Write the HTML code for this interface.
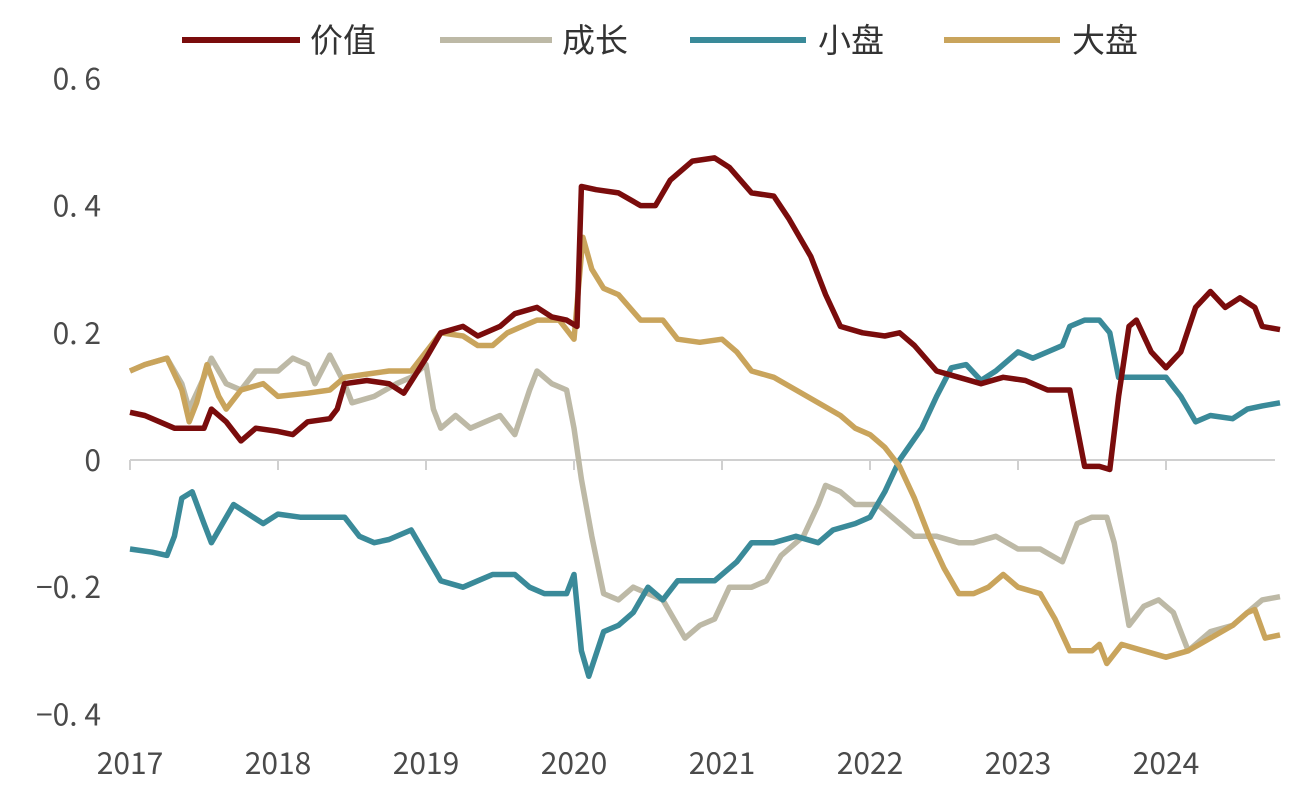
<!DOCTYPE html>
<html><head><meta charset="utf-8">
<style>
html,body{margin:0;padding:0;background:#fff;}
svg{display:block;font-family:"Noto Sans CJK SC","Liberation Sans",sans-serif;}
</style></head>
<body>
<svg id="chart" width="1290" height="792" viewBox="0 0 1290 792" xmlns="http://www.w3.org/2000/svg">
<g id="legend">
  <g><line x1="182" y1="40" x2="300" y2="40" stroke="#7a0c0c" stroke-width="6"/><text x="310" y="52" font-size="33" fill="#333">价值</text></g>
  <g><line x1="440" y1="40" x2="552" y2="40" stroke="#bdb9a6" stroke-width="6"/><text x="562" y="52" font-size="33" fill="#333">成长</text></g>
  <g><line x1="690" y1="40" x2="806" y2="40" stroke="#3a8a99" stroke-width="6"/><text x="818" y="52" font-size="33" fill="#333">小盘</text></g>
  <g><line x1="944" y1="40" x2="1060" y2="40" stroke="#c9a45c" stroke-width="6"/><text x="1072" y="52" font-size="33" fill="#333">大盘</text></g>
</g>
<g id="yaxis"></g>
<g id="xaxis"></g>
<g id="series"></g>
</svg>
<script>
const yTicks = [0.6, 0.4, 0.2, 0, -0.2, -0.4];
const yTickLabels = ["0. 6", "0. 4", "0. 2", "0", "\u22120. 2", "\u22120. 4"];
const xTicks = [2017, 2018, 2019, 2020, 2021, 2022, 2023, 2024];
const xTickLabels = ["2017", "2018", "2019", "2020", "2021", "2022", "2023", "2024"];

const valueX = [2017.0,2017.1,2017.2,2017.3,2017.4,2017.5,2017.55,2017.65,2017.75,2017.85,2018.0,2018.1,2018.2,2018.35,2018.4,2018.45,2018.6,2018.75,2018.85,2019.0,2019.1,2019.25,2019.35,2019.5,2019.6,2019.75,2019.85,2019.95,2020.02,2020.05,2020.15,2020.3,2020.45,2020.55,2020.65,2020.8,2020.95,2021.05,2021.2,2021.35,2021.45,2021.6,2021.7,2021.8,2021.95,2022.1,2022.2,2022.3,2022.45,2022.6,2022.75,2022.9,2023.05,2023.2,2023.35,2023.4,2023.45,2023.55,2023.62,2023.68,2023.75,2023.8,2023.9,2024.0,2024.1,2024.2,2024.3,2024.4,2024.5,2024.6,2024.65,2024.77];
const valueY = [0.075,0.07,0.06,0.05,0.05,0.05,0.08,0.06,0.03,0.05,0.045,0.04,0.06,0.065,0.08,0.12,0.125,0.12,0.105,0.16,0.2,0.21,0.195,0.21,0.23,0.24,0.225,0.22,0.21,0.43,0.425,0.42,0.4,0.4,0.44,0.47,0.475,0.46,0.42,0.415,0.38,0.32,0.26,0.21,0.2,0.195,0.2,0.18,0.14,0.13,0.12,0.13,0.125,0.11,0.11,0.05,-0.01,-0.01,-0.015,0.1,0.21,0.22,0.17,0.145,0.17,0.24,0.265,0.24,0.255,0.24,0.21,0.205];

const growthX = [2017.0,2017.1,2017.25,2017.35,2017.4,2017.5,2017.55,2017.65,2017.75,2017.85,2018.0,2018.1,2018.2,2018.25,2018.35,2018.45,2018.5,2018.65,2018.8,2018.9,2019.0,2019.05,2019.1,2019.2,2019.3,2019.4,2019.5,2019.6,2019.7,2019.75,2019.85,2019.95,2020.0,2020.05,2020.12,2020.2,2020.3,2020.4,2020.5,2020.6,2020.7,2020.75,2020.85,2020.95,2021.05,2021.2,2021.3,2021.4,2021.55,2021.65,2021.7,2021.8,2021.9,2022.05,2022.15,2022.3,2022.45,2022.6,2022.7,2022.85,2023.0,2023.15,2023.3,2023.4,2023.5,2023.6,2023.65,2023.75,2023.85,2023.95,2024.05,2024.15,2024.3,2024.45,2024.55,2024.65,2024.77];
const growthY = [0.14,0.15,0.16,0.12,0.08,0.13,0.16,0.12,0.11,0.14,0.14,0.16,0.15,0.12,0.165,0.12,0.09,0.1,0.12,0.13,0.15,0.08,0.05,0.07,0.05,0.06,0.07,0.04,0.11,0.14,0.12,0.11,0.05,-0.03,-0.12,-0.21,-0.22,-0.2,-0.21,-0.22,-0.26,-0.28,-0.26,-0.25,-0.2,-0.2,-0.19,-0.15,-0.12,-0.07,-0.04,-0.05,-0.07,-0.07,-0.09,-0.12,-0.12,-0.13,-0.13,-0.12,-0.14,-0.14,-0.16,-0.1,-0.09,-0.09,-0.13,-0.26,-0.23,-0.22,-0.24,-0.3,-0.27,-0.26,-0.24,-0.22,-0.215];

const smallX = [2017.0,2017.15,2017.25,2017.3,2017.35,2017.42,2017.5,2017.55,2017.6,2017.7,2017.8,2017.9,2018.0,2018.15,2018.3,2018.45,2018.55,2018.65,2018.75,2018.9,2019.0,2019.1,2019.25,2019.35,2019.45,2019.6,2019.7,2019.8,2019.9,2019.95,2020.0,2020.05,2020.1,2020.2,2020.3,2020.4,2020.5,2020.6,2020.7,2020.85,2020.95,2021.1,2021.2,2021.35,2021.5,2021.65,2021.75,2021.9,2022.0,2022.1,2022.2,2022.35,2022.45,2022.55,2022.65,2022.75,2022.85,2023.0,2023.1,2023.2,2023.3,2023.35,2023.45,2023.55,2023.62,2023.68,2023.8,2024.0,2024.1,2024.2,2024.3,2024.45,2024.55,2024.65,2024.77];
const smallY = [-0.14,-0.145,-0.15,-0.12,-0.06,-0.05,-0.1,-0.13,-0.11,-0.07,-0.085,-0.1,-0.085,-0.09,-0.09,-0.09,-0.12,-0.13,-0.125,-0.11,-0.15,-0.19,-0.2,-0.19,-0.18,-0.18,-0.2,-0.21,-0.21,-0.21,-0.18,-0.3,-0.34,-0.27,-0.26,-0.24,-0.2,-0.22,-0.19,-0.19,-0.19,-0.16,-0.13,-0.13,-0.12,-0.13,-0.11,-0.1,-0.09,-0.05,0.0,0.05,0.1,0.145,0.15,0.125,0.14,0.17,0.16,0.17,0.18,0.21,0.22,0.22,0.2,0.13,0.13,0.13,0.1,0.06,0.07,0.065,0.08,0.085,0.09];

const largeX = [2017.0,2017.1,2017.25,2017.35,2017.4,2017.45,2017.52,2017.6,2017.65,2017.75,2017.9,2018.0,2018.2,2018.35,2018.45,2018.6,2018.75,2018.9,2019.0,2019.1,2019.25,2019.35,2019.45,2019.55,2019.65,2019.75,2019.9,2020.0,2020.06,2020.12,2020.2,2020.3,2020.45,2020.6,2020.7,2020.85,2021.0,2021.1,2021.2,2021.35,2021.5,2021.65,2021.8,2021.9,2022.0,2022.1,2022.2,2022.3,2022.4,2022.5,2022.6,2022.7,2022.8,2022.9,2023.0,2023.15,2023.25,2023.35,2023.5,2023.55,2023.6,2023.7,2023.85,2024.0,2024.15,2024.3,2024.45,2024.55,2024.6,2024.67,2024.77];
const largeY = [0.14,0.15,0.16,0.11,0.06,0.09,0.15,0.1,0.08,0.11,0.12,0.1,0.105,0.11,0.13,0.135,0.14,0.14,0.17,0.2,0.195,0.18,0.18,0.2,0.21,0.22,0.22,0.19,0.35,0.3,0.27,0.26,0.22,0.22,0.19,0.185,0.19,0.17,0.14,0.13,0.11,0.09,0.07,0.05,0.04,0.02,-0.01,-0.06,-0.12,-0.17,-0.21,-0.21,-0.2,-0.18,-0.2,-0.21,-0.25,-0.3,-0.3,-0.29,-0.32,-0.29,-0.3,-0.31,-0.3,-0.28,-0.26,-0.24,-0.235,-0.28,-0.275];

const NS = "http://www.w3.org/2000/svg";
function xScale(yr){ return 130 + (yr - 2017) * 148; }
function yScale(v){ return 460 - v * 636; }

const yAxis = document.getElementById('yaxis');
yTicks.forEach((t, i) => {
  const tx = document.createElementNS(NS, 'text');
  tx.setAttribute('x', 101);
  tx.setAttribute('y', yScale(t) + 11);
  tx.setAttribute('text-anchor', 'end');
  tx.setAttribute('font-size', '30');
  tx.setAttribute('fill', '#4a4a4a');
  tx.textContent = yTickLabels[i];
  
  
  yAxis.appendChild(tx);
});

const xAxis = document.getElementById('xaxis');
const base = document.createElementNS(NS, 'line');
base.setAttribute('x1', 130); base.setAttribute('x2', 1275);
base.setAttribute('y1', yScale(0)); base.setAttribute('y2', yScale(0));
base.setAttribute('stroke', '#d0d0d0'); base.setAttribute('stroke-width', '2');


xAxis.appendChild(base);
xTicks.forEach((t, i) => {
  const tk = document.createElementNS(NS, 'line');
  tk.setAttribute('x1', xScale(t)); tk.setAttribute('x2', xScale(t));
  tk.setAttribute('y1', yScale(0)); tk.setAttribute('y2', yScale(0) + 10);
  tk.setAttribute('stroke', '#d0d0d0'); tk.setAttribute('stroke-width', '2');
  
  
  xAxis.appendChild(tk);
  const tx = document.createElementNS(NS, 'text');
  tx.setAttribute('x', xScale(t));
  tx.setAttribute('y', 774);
  tx.setAttribute('text-anchor', 'middle');
  tx.setAttribute('font-size', '30');
  tx.setAttribute('fill', '#4a4a4a');
  tx.textContent = xTickLabels[i];
  
  
  xAxis.appendChild(tx);
});

const seriesG = document.getElementById('series');
function drawLine(xs, ys, color, name){
  const d = xs.map((x, i) => (i ? 'L' : 'M') + xScale(x).toFixed(1) + ',' + yScale(ys[i]).toFixed(1)).join(' ');
  const p = document.createElementNS(NS, 'path');
  p.setAttribute('d', d);
  p.setAttribute('fill', 'none');
  p.setAttribute('stroke', color);
  p.setAttribute('stroke-width', '5.5');
  p.setAttribute('stroke-linejoin', 'round');
  
  
  seriesG.appendChild(p);
}
drawLine(growthX, growthY, '#bdb9a6', 'growth-line');
drawLine(smallX, smallY, '#3a8a99', 'small-cap-line');
drawLine(largeX, largeY, '#c9a45c', 'large-cap-line');
drawLine(valueX, valueY, '#7a0c0c', 'value-line');
</script>
</body></html>
